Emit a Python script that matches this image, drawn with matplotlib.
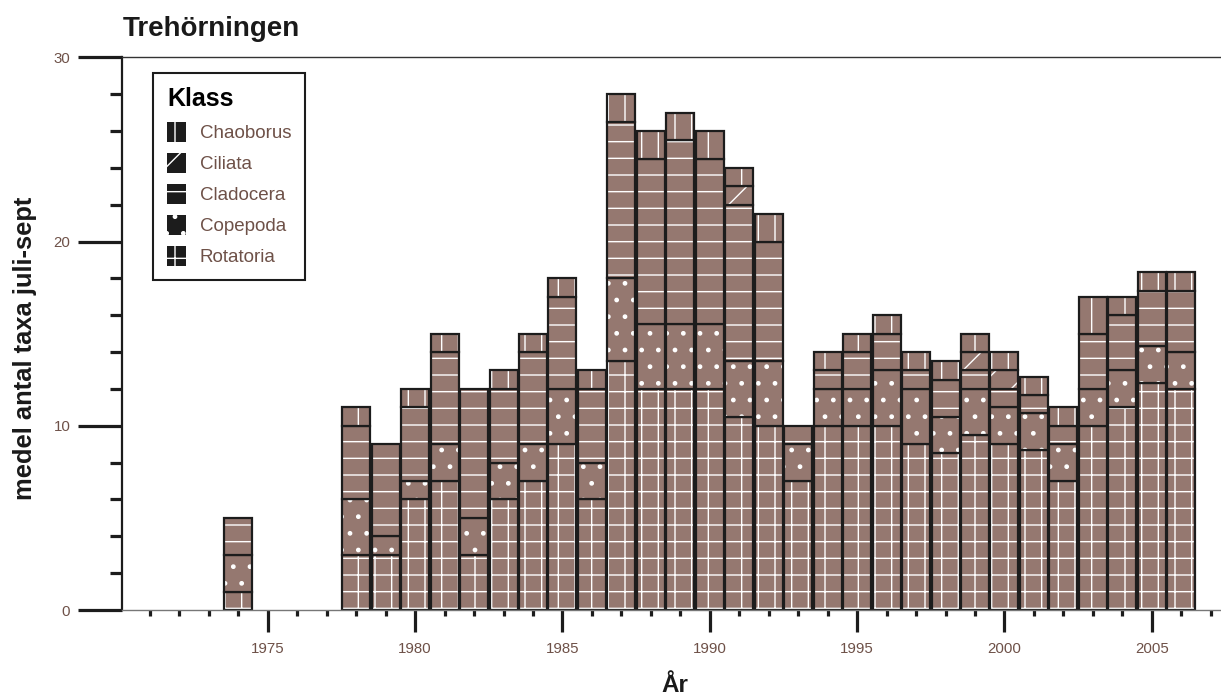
import numpy as np
import matplotlib
matplotlib.use('Agg')
import matplotlib.pyplot as plt
from matplotlib.patches import Patch

plt.rcParams['font.family'] = ['Liberation Sans', 'DejaVu Sans']
plt.rcParams['hatch.linewidth'] = 1.0

# data: mean number of taxa per class (juli-sept)
years = [1974, 1978, 1979, 1980, 1981, 1982, 1983, 1984, 1985, 1986,
         1987, 1988, 1989, 1990, 1991, 1992, 1993, 1994, 1995, 1996,
         1997, 1998, 1999, 2000, 2001, 2002, 2003, 2004, 2005, 2006]
rotatoria = [1, 3, 3, 6, 7, 3, 6, 7, 9, 6,
             13.5, 12, 12, 12, 10.5, 10, 7, 10, 10, 10,
             9, 8.5, 9.5, 9, 8.67, 7, 10, 11, 12.33, 12]
copepoda = [2, 3, 1, 1, 2, 2, 2, 2, 3, 2,
            4.5, 3.5, 3.5, 3.5, 3, 3.5, 2, 2, 2, 3,
            3, 2, 2.5, 2, 2, 2, 2, 2, 2, 2]
cladocera = [2, 4, 5, 4, 5, 7, 4, 5, 5, 4,
             8.5, 9, 10, 9, 8.5, 6.5, 1, 1, 2, 2,
             1, 2, 1, 1, 1, 1, 3, 3, 3, 3.33]
ciliata = [0, 0, 0, 0, 0, 0, 0, 0, 0, 0,
           0, 0, 0, 0, 1, 0, 0, 0, 0, 0,
           0, 0, 1, 1, 0, 0, 0, 0, 0, 0]
chaoborus = [0, 1, 0, 1, 1, 0, 1, 1, 1, 1,
             1.5, 1.5, 1.5, 1.5, 1, 1.5, 0, 1, 1, 1,
             1, 1, 1, 1, 1, 1, 2, 1, 1, 1]

legend_order = ['Chaoborus', 'Ciliata', 'Cladocera', 'Copepoda', 'Rotatoria']
stack = [('Rotatoria', rotatoria), ('Copepoda', copepoda),
         ('Cladocera', cladocera), ('Ciliata', ciliata),
         ('Chaoborus', chaoborus)]
hatches = {'Chaoborus': '|', 'Ciliata': '/', 'Cladocera': '-',
           'Copepoda': '.', 'Rotatoria': '+'}

FILL = '#957870'
EDGE = '#1c1c1c'
BROWN = '#6e5148'

fig = plt.figure(figsize=(12.21, 6.96), dpi=100)
ax = fig.add_axes([122 / 1221, 86 / 696, 1 - 122 / 1221, 552.7 / 696])

x = np.array(years, dtype=float)
bottom = np.zeros(len(years))
for name, vals in stack:
    v = np.array(vals, dtype=float)
    m = v > 0
    # fill + white hatch, then black outline on top
    ax.bar(x[m], v[m], width=0.95, bottom=bottom[m], color=FILL,
           edgecolor='white', linewidth=0, hatch=hatches[name])
    ax.bar(x[m], v[m], width=0.95, bottom=bottom[m], fill=False,
           edgecolor=EDGE, linewidth=1.6)
    bottom += v

ax.set_xlim(1970.05, 2007.35)
ax.set_ylim(0, 30)
ax.set_xticks(range(1975, 2006, 5))
ax.set_xticks(range(1971, 2008), minor=True)
ax.set_yticks([0, 10, 20, 30])
ax.set_yticks(range(2, 30, 2), minor=True)

ax.tick_params(axis='y', which='major', length=31.7, width=2.3, pad=5.5,
               labelsize=10.8, labelcolor=BROWN, color=EDGE)
ax.tick_params(axis='y', which='minor', length=8.6, width=2.3, color=EDGE)
ax.tick_params(axis='x', which='major', length=15.5, width=2.3, pad=7.5,
               labelsize=10.8, labelcolor=BROWN, color=EDGE)
ax.tick_params(axis='x', which='minor', length=4, width=2.3, color=EDGE)

ax.spines['right'].set_visible(False)
ax.spines['left'].set_linewidth(1.6)
ax.spines['left'].set_color(EDGE)
ax.spines['top'].set_linewidth(1.0)
ax.spines['top'].set_color('#333333')
ax.spines['bottom'].set_linewidth(1.0)
ax.spines['bottom'].set_color('#777777')

handles = [Patch(facecolor='#1c1c1c', edgecolor='white', linewidth=0,
                 hatch=hatches[n], label=n) for n in legend_order]
leg = ax.legend(handles=handles, title='Klass', loc='upper left',
                bbox_to_anchor=(0.0282, 0.9716), fontsize=13.5,
                title_fontproperties={'weight': 'bold', 'size': 18},
                alignment='left', frameon=True, fancybox=False,
                edgecolor=EDGE, framealpha=1, borderpad=0.75,
                borderaxespad=0, labelspacing=0.56, handlelength=1.0,
                handleheight=1.3, handletextpad=0.75, labelcolor=BROWN)
leg.get_frame().set_linewidth(1.5)

fig.text(123 / 1221, 1 - 36 / 696, 'Trehörningen', ha='left',
         va='baseline', fontsize=20, fontweight='bold', color='#1a1a1a')
fig.text(25 / 1221, 0.5, 'medel antal taxa juli-sept', rotation=90,
         ha='center', va='center', fontsize=18.4, fontweight='bold',
         color='#1a1a1a')
fig.text(675 / 1221, 0.006, 'År', ha='center', va='baseline',
         fontsize=17.5, fontweight='bold', color='#1a1a1a')

fig.savefig('out.png', dpi=100)
